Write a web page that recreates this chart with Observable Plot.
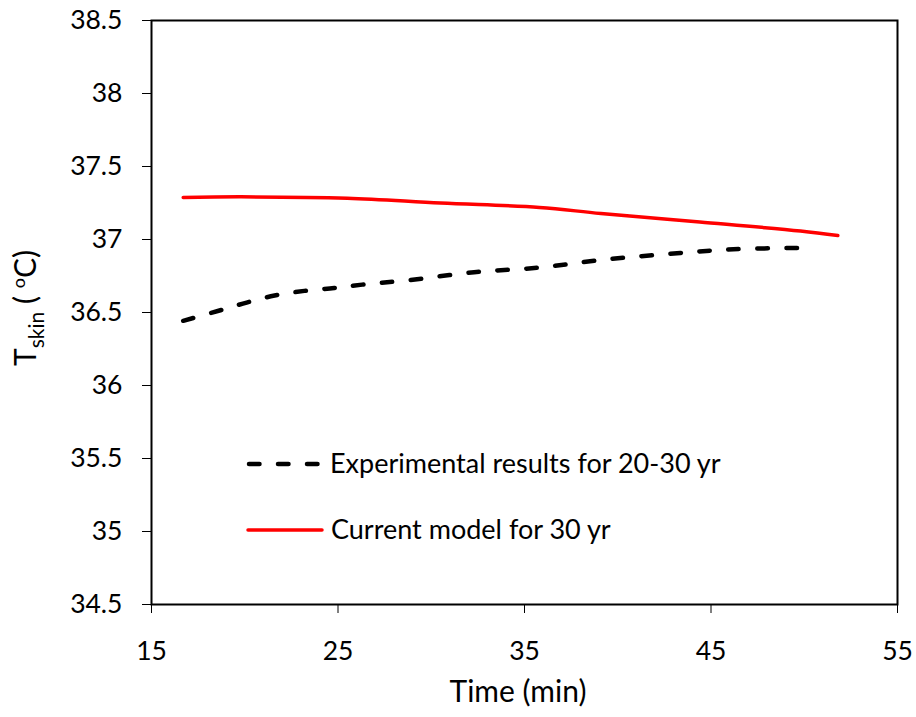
<!DOCTYPE html>
<html><head><meta charset="utf-8">
<script src="https://cdn.jsdelivr.net/npm/d3@7"></script>
<script src="https://cdn.jsdelivr.net/npm/@observablehq/plot@0.6"></script>
<style>body{margin:0;background:#fff;} svg{display:block;}</style>
</head><body><div id="chart"></div>
<script>
const FONT = "Lato, 'Open Sans', sans-serif";
const xTicks = [15, 25, 35, 45, 55];
const yTicks = [34.5, 35, 35.5, 36, 36.5, 37, 37.5, 38, 38.5];
const expTime = [16.7, 18.6, 20.1, 21.6, 23.2, 24.8, 26.3, 28.7, 32.3, 35.8, 39.1, 42.6, 46.2, 50.2];
const expTemp = [36.443, 36.512, 36.568, 36.616, 36.648, 36.668, 36.691, 36.72, 36.776, 36.808, 36.86, 36.90, 36.933, 36.943];
const modelTime = [16.7, 19.8, 25.5, 30.5, 35.8, 39.1, 44.4, 49.8, 51.8];
const modelTemp = [37.288, 37.292, 37.283, 37.25, 37.22, 37.178, 37.12, 37.058, 37.027];
const seriesNames = ["Experimental results for 20-30 yr", "Current model for 30 yr"];
const xLabel = "Time (min)";

const expData = expTime.map((t, i) => ({t, v: expTemp[i]}));
const modelData = modelTime.map((t, i) => ({t, v: modelTemp[i]}));

const chart = Plot.plot({
  width: 916, height: 717,
  marginLeft: 151, marginRight: 19, marginTop: 20, marginBottom: 113,
  x: {domain: [15, 55]},
  y: {domain: [34.5, 38.5]},
  style: {fontFamily: FONT, fontSize: "26.5px", color: "#000", background: "#fff"},
  marks: [
    Plot.axisX({ticks: xTicks, tickSize: 9, tickPadding: 28, label: null, fontSize: 26.5, tickFormat: d => String(d)}),
    Plot.axisY({ticks: yTicks, tickSize: 9, tickPadding: 20, label: null, fontSize: 26.5, tickFormat: d => String(d)}),
    Plot.frame({stroke: "#000", strokeWidth: 2}),
    Plot.line(expData, {x: "t", y: "v", stroke: "#000", strokeWidth: 4.5, strokeDasharray: "10.5,18.5", strokeLinecap: "round", curve: "catmull-rom"}),
    Plot.line(modelData, {x: "t", y: "v", stroke: "#ff0000", strokeWidth: 3.5, strokeLinecap: "round", curve: "catmull-rom"})
  ]
});
document.getElementById("chart").appendChild(chart);

const svg = d3.select(chart);
// x label
svg.append("text").attr("x", 518).attr("y", 702).attr("text-anchor", "middle")
  .attr("font-family", FONT).attr("font-size", 30).attr("fill", "#000").text(xLabel);
// y label
const yl = svg.append("text").attr("transform", "translate(36,308) rotate(-90)")
  .attr("text-anchor", "middle").attr("font-family", FONT).attr("font-size", 30).attr("fill", "#000");
yl.append("tspan").text("T");
yl.append("tspan").attr("font-size", 21).attr("dy", 8).text("skin");
yl.append("tspan").attr("dy", -8).text(" ( ");
yl.append("tspan").attr("font-size", 18).attr("dy", -11).text("o");
yl.append("tspan").attr("dy", 11).text("C)");
// legend
const leg = svg.append("g").attr("font-family", FONT).attr("font-size", 27).attr("fill", "#000").attr("text-anchor", "start");
leg.append("line").attr("x1", 249).attr("x2", 318).attr("y1", 464).attr("y2", 464)
  .attr("stroke", "#000").attr("stroke-width", 4.5).attr("stroke-dasharray", "10.5,18.5").attr("stroke-linecap", "round");
leg.append("text").attr("x", 330).attr("y", 464).attr("dy", "0.35em").attr("text-anchor", "start").text(seriesNames[0]);
leg.append("line").attr("x1", 248).attr("x2", 322).attr("y1", 530).attr("y2", 530)
  .attr("stroke", "#ff0000").attr("stroke-width", 3.5).attr("stroke-linecap", "round");
leg.append("text").attr("x", 331).attr("y", 530).attr("dy", "0.35em").attr("text-anchor", "start").text(seriesNames[1]);
</script>
</body></html>
